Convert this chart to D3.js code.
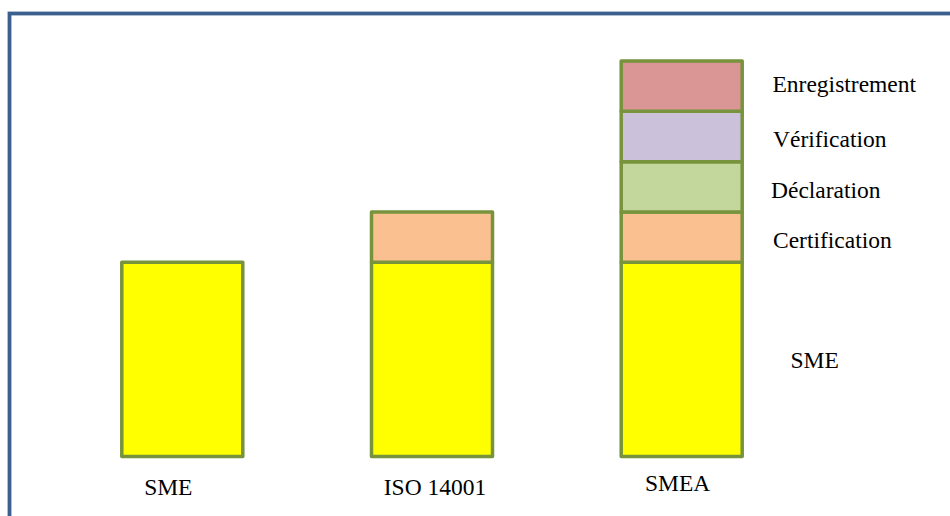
<!DOCTYPE html>
<html>
<head>
<meta charset="utf-8">
<script src="https://cdn.jsdelivr.net/npm/d3@7"></script>
<style>
	body { margin: 0; background: #ffffff; }
</style>
</head>
<body>
<svg id="chart" width="950" height="516"></svg>
<script>

// systems shown as columns
var categories = ["SME", "ISO 14001", "SMEA"];

// height of the base SME block (in layer units)
var baseValue = 3.86;

// layers stacked on top of the base, from bottom to top
var layers = ["Certification", "Déclaration", "Vérification", "Enregistrement"];
var layerValues = [1, 1, 1, 1];

// how many layers each column carries
var layerCounts = [0, 1, 4];

var baseColour = "#ffff00";
var layerColours = ["#fac090", "#c3d69b", "#ccc1da", "#d99694"];

var serif = "'Liberation Serif', 'Times New Roman', Times, 'DejaVu Serif', serif";


var svg = d3.select("#chart");

// outer frame (right and bottom edges fall outside the picture)
svg.append("rect")
	.attr("x", 9.5)
	.attr("y", 13.5)
	.attr("width", 1000)
	.attr("height", 600)
	.style("fill", "none")
	.style("stroke", "#3b5f8e")
	.style("stroke-width", 3.8);


var x = d3.scalePoint()
			.domain(categories)
			.range([182.3, 681.7]);

var total = baseValue + d3.sum(layerValues);

var y = d3.scaleLinear()
			.domain([0, total])
			.range([456.5, 61]);

var barWidth = 121;


// build one list of blocks per column
function columnBlocks(cat, i) {

	var blocks = [{ cat: cat, y0: 0, y1: baseValue, fill: baseColour }];
	var top = baseValue;

	for (var k = 0; k < layerCounts[i]; k++) {
		blocks.push({ cat: cat, y0: top, y1: top + layerValues[k],
						fill: layerColours[k] });
		top += layerValues[k];
	}

	return blocks;
}

var blocks = [];
categories.forEach(function(c, i) {
	blocks = blocks.concat(columnBlocks(c, i));
});


svg.append("g")
	.selectAll("rect")
	.data(blocks)
	.enter().append("rect")
	.attr("x", function(d) { return x(d.cat) - barWidth / 2; })
	.attr("y", function(d) { return y(d.y1); })
	.attr("width", barWidth)
	.attr("height", function(d) { return y(d.y0) - y(d.y1); })
	.style("fill", function(d) { return d.fill; })
	.style("stroke", "#77933c")
	.style("stroke-width", 3.5)
	.style("stroke-linejoin", "round");


// column names under the bars
var catShift = [-14, 3, -4];

svg.append("g")
	.selectAll("text")
	.data(categories)
	.enter().append("text")
	.attr("x", function(d, i) { return x(d) + catShift[i]; })
	.attr("y", function(d, i) { return i == 2 ? 491 : 494.5; })
	.attr("text-anchor", "middle")
	.attr("font-family", serif)
	.attr("font-size", 23.5)
	.style("fill", "#000")
	.text(function(d) { return d; });


// layer names to the right of the last column
var layerLabelX = [773, 771, 773, 772.5];
var layerNudge = [11, 11, 10.5, 6];

var layerTop = baseValue;
var layerLabels = layers.map(function(name, k) {
	var mid = layerTop + layerValues[k] / 2;
	layerTop += layerValues[k];
	return { name: name, mid: mid, k: k };
});

svg.append("g")
	.selectAll("text")
	.data(layerLabels)
	.enter().append("text")
	.attr("x", function(d) { return layerLabelX[d.k]; })
	.attr("y", function(d) { return y(d.mid) + layerNudge[d.k]; })
	.attr("font-family", serif)
	.attr("font-size", 23.5)
	.style("fill", "#000")
	.text(function(d) { return d.name; });

svg.append("text")
	.attr("x", 790.5)
	.attr("y", y(baseValue / 2) + 9)
	.attr("font-family", serif)
	.attr("font-size", 23.5)
	.style("fill", "#000")
	.text("SME");

</script>
</body>
</html>
